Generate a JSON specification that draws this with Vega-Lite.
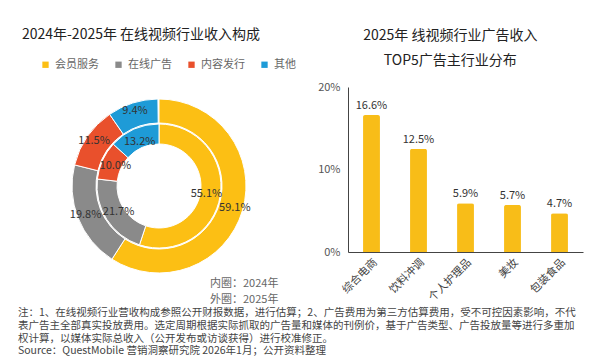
{
  "$schema": "https://vega.github.io/schema/vega-lite/v6.json",
  "background": "white",
  "padding": {"left": 5, "top": 28, "right": 5, "bottom": 0},
  "spacing": 40,
  "config": {
    "view": {"stroke": null},
    "font": "Noto Sans CJK SC",
    "title": {"font": "Noto Sans CJK SC", "fontSize": 14, "fontWeight": "normal", "color": "#222"}
  },
  "title": {
    "text": [
      "注：1、在线视频行业营收构成参照公开财报数据，进行估算；2、广告费用为第三方估算费用，受不可控因素影响，不代",
      "表广告主全部真实投放费用。选定周期根据实际抓取的广告量和媒体的刊例价，基于广告类型、广告投放量等进行多重加",
      "权计算，以媒体实际总收入（公开发布或访谈获得）进行校准修正。"
    ],
    "subtitle": "Source：QuestMobile 营销洞察研究院 2026年1月；公开资料整理",
    "orient": "bottom",
    "anchor": "start",
    "frame": "group",
    "dx": 13,
    "offset": 3,
    "fontSize": 10.5,
    "color": "#444",
    "lineHeight": 13,
    "subtitleFontSize": 10.5,
    "subtitleColor": "#444",
    "subtitlePadding": 1,
    "subtitleLineHeight": 12,
    "font": "Noto Sans CJK SC"
  },
  "datasets": {
    "donut": [
      {"year": "2025", "ring": "外圈：2025年", "cat": "会员服务", "ord": 1, "value": 0.591},
      {"year": "2025", "ring": "外圈：2025年", "cat": "在线广告", "ord": 2, "value": 0.198},
      {"year": "2025", "ring": "外圈：2025年", "cat": "内容发行", "ord": 3, "value": 0.115},
      {"year": "2025", "ring": "外圈：2025年", "cat": "其他", "ord": 4, "value": 0.094},
      {"year": "2024", "ring": "内圈：2024年", "cat": "会员服务", "ord": 1, "value": 0.551},
      {"year": "2024", "ring": "内圈：2024年", "cat": "在线广告", "ord": 2, "value": 0.217},
      {"year": "2024", "ring": "内圈：2024年", "cat": "内容发行", "ord": 3, "value": 0.100},
      {"year": "2024", "ring": "内圈：2024年", "cat": "其他", "ord": 4, "value": 0.132}
    ],
    "bars": [
      {"industry": "综合电商", "share": 0.166},
      {"industry": "饮料冲调", "share": 0.125},
      {"industry": "个人护理品", "share": 0.059},
      {"industry": "美妆", "share": 0.057},
      {"industry": "包装食品", "share": 0.047}
    ]
  },
  "hconcat": [
    {
      "width": 272,
      "height": 198,
      "title": {"text": "2024年-2025年 在线视频行业收入构成", "anchor": "middle", "offset": 45},
      "data": {"name": "donut"},
      "encoding": {
        "theta": {"field": "value", "type": "quantitative", "stack": true},
        "order": {"field": "ord", "type": "quantitative"},
        "x": {"value": 154},
        "y": {"value": 99}
      },
      "layer": [
        {
          "transform": [{"filter": "datum.year == '2025'"}],
          "mark": {"type": "arc", "stroke": "white", "strokeWidth": 1},
          "encoding": {
            "radius": {"value": 87},
            "radius2": {"value": 63},
            "color": {
              "field": "cat", "type": "nominal",
              "scale": {"domain": ["会员服务", "在线广告", "内容发行", "其他"], "range": ["#FCBF14", "#8A8A8A", "#E9502C", "#1E9BD7"]},
              "legend": {"title": null, "orient": "none", "legendX": 35, "legendY": -28, "direction": "horizontal", "symbolType": "square", "symbolSize": 40, "labelFontSize": 11, "labelColor": "#666", "columnPadding": 14, "labelOffset": 4, "symbolStrokeWidth": 0}
            },
            "opacity": {
              "field": "ring", "type": "nominal",
              "scale": {"domain": ["内圈：2024年", "外圈：2025年"], "range": [1, 1]},
              "legend": {"title": null, "orient": "none", "legendX": 194, "legendY": 191, "direction": "vertical", "symbolOpacity": 0, "symbolSize": 0, "symbolStrokeWidth": 0, "labelOffset": 0, "labelFontSize": 11, "labelColor": "#666", "rowPadding": 4}
            }
          }
        },
        {
          "transform": [{"filter": "datum.year == '2024'"}],
          "mark": {"type": "arc", "stroke": "white", "strokeWidth": 1},
          "encoding": {
            "radius": {"value": 62},
            "radius2": {"value": 42},
            "color": {"field": "cat", "type": "nominal"},
            "opacity": {"field": "ring", "type": "nominal"}
          }
        },
        {
          "transform": [{"filter": "datum.year == '2025'"}],
          "mark": {"type": "text", "fontSize": 11, "color": "#333"},
          "encoding": {
            "radius": {"value": 79},
            "text": {"field": "value", "type": "quantitative", "format": ".1%"}
          }
        },
        {
          "transform": [{"filter": "datum.year == '2024'"}],
          "mark": {"type": "text", "fontSize": 11, "color": "#333"},
          "encoding": {
            "radius": {"value": 48},
            "text": {"field": "value", "type": "quantitative", "format": ".1%"}
          }
        }
      ]
    },
    {
      "width": 235,
      "height": 165,
      "title": {"text": ["2025年 线视频行业广告收入", "TOP5广告主行业分布"], "anchor": "middle", "frame": "bounds", "offset": 13, "lineHeight": 25},
      "data": {"name": "bars"},
      "encoding": {
        "x": {
          "field": "industry", "type": "nominal", "sort": null,
          "scale": {"paddingInner": 0.64, "paddingOuter": 0.32},
          "axis": {"title": null, "labelAngle": -45, "ticks": false, "domainColor": "#444", "labelColor": "#444", "labelFontSize": 11, "labelPadding": 4}
        },
        "y": {
          "field": "share", "type": "quantitative",
          "scale": {"domain": [0, 0.2]},
          "axis": {"title": null, "values": [0, 0.1, 0.2], "format": ".0%", "grid": false, "ticks": false, "domainColor": "#444", "labelColor": "#555", "labelFontSize": 11, "labelPadding": 8}
        }
      },
      "layer": [
        {"mark": {"type": "bar", "color": "#F8BD18", "cornerRadiusTopLeft": 2, "cornerRadiusTopRight": 2}},
        {
          "mark": {"type": "text", "dy": -9, "fontSize": 11, "color": "#333"},
          "encoding": {"text": {"field": "share", "type": "quantitative", "format": ".1%"}}
        }
      ]
    }
  ]
}
